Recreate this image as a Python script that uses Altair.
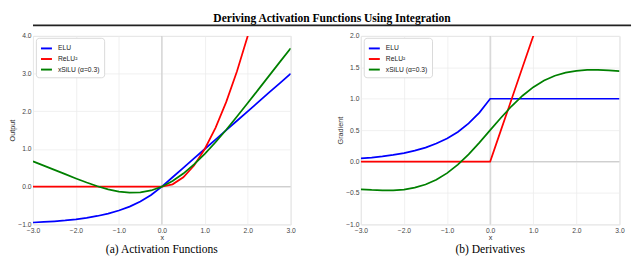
import altair as alt
import pandas as pd

# ---- data ----
x_vals = [-3.0, -2.75, -2.5, -2.25, -2.0, -1.75, -1.5, -1.25, -1.0, -0.75, -0.5, -0.25,
          0.0, 0.25, 0.5, 0.75, 1.0, 1.25, 1.5, 1.75, 2.0, 2.25, 2.5, 2.75, 3.0]

elu_f = [-0.950, -0.936, -0.918, -0.895, -0.865, -0.826, -0.777, -0.713, -0.632, -0.528, -0.393, -0.221,
         0.0, 0.25, 0.5, 0.75, 1.0, 1.25, 1.5, 1.75, 2.0, 2.25, 2.5, 2.75, 3.0]
relu2_f = [0.0, 0.0, 0.0, 0.0, 0.0, 0.0, 0.0, 0.0, 0.0, 0.0, 0.0, 0.0,
           0.0, 0.0625, 0.25, 0.5625, 1.0, 1.5625, 2.25, 3.0625, 4.0, 5.0625, 6.25, 7.5625, 9.0]
xsilu_f = [0.672, 0.560, 0.446, 0.332, 0.219, 0.111, 0.012, -0.070, -0.130, -0.160, -0.152, -0.100,
           0.0, 0.150, 0.348, 0.590, 0.870, 1.180, 1.512, 1.861, 2.219, 2.582, 2.946, 3.311, 3.673]

elu_d = [0.050, 0.064, 0.082, 0.105, 0.135, 0.174, 0.223, 0.287, 0.368, 0.472, 0.607, 0.779,
         1.0, 1.0, 1.0, 1.0, 1.0, 1.0, 1.0, 1.0, 1.0, 1.0, 1.0, 1.0, 1.0]
relu2_d = [0.0, 0.0, 0.0, 0.0, 0.0, 0.0, 0.0, 0.0, 0.0, 0.0, 0.0, 0.0,
           0.0, 0.5, 1.0, 1.5, 2.0, 2.5, 3.0, 3.5, 4.0, 4.5, 5.0, 5.5, 6.0]
xsilu_d = [-0.441, -0.452, -0.459, -0.458, -0.445, -0.416, -0.366, -0.290, -0.184, -0.048, 0.116, 0.302,
           0.5, 0.698, 0.884, 1.048, 1.184, 1.290, 1.366, 1.416, 1.445, 1.458, 1.459, 1.452, 1.441]

series_names = ["ELU", "ReLU²", "xSiLU (α=0.3)"]
series_colors = ["#0000ff", "#ff0000", "#008000"]

main_title = "Deriving Activation Functions Using Integration"
sub_a = "(a) Activation Functions"
sub_b = "(b) Derivatives"
x_ticks = [-3, -2, -1, 0, 1, 2, 3]
y_ticks_a = [-1, 0, 1, 2, 3, 4]
y_ticks_b = [-1.0, -0.5, 0.0, 0.5, 1.0, 1.5, 2.0]


def long_df(cols):
    rows = []
    for name, vals in zip(series_names, cols):
        for i, (xv, yv) in enumerate(zip(x_vals, vals)):
            rows.append({"x": xv, "y": yv, "series": name, "order": i})
    return pd.DataFrame(rows)


df_a = long_df([elu_f, relu2_f, xsilu_f])
df_b = long_df([elu_d, relu2_d, xsilu_d])

SANS = "Liberation Sans"
SERIF = "Liberation Serif"


def panel(df, ytitle, ydom, yticks, sub, w, h):
    xs = alt.Scale(domain=[-3, 3], nice=False)
    ys = alt.Scale(domain=ydom, nice=False)
    xax = alt.Axis(values=x_ticks, format=".1f", title="x", labelFlush=False,
                   titleFontWeight="normal")
    yax = alt.Axis(values=yticks, format=".1f", title=ytitle, labelFlush=False,
                   titleFontWeight="normal")
    zero = pd.DataFrame({"v": [0]})
    vline = alt.Chart(zero).mark_rule(color="#cfcfcf", strokeWidth=1.2).encode(
        x=alt.X("v:Q", scale=xs, axis=xax))
    hline = alt.Chart(zero).mark_rule(color="#cfcfcf", strokeWidth=1.2).encode(
        y=alt.Y("v:Q", scale=ys, axis=yax))
    lines = alt.Chart(df).mark_line(strokeWidth=1.8, clip=True).encode(
        x=alt.X("x:Q", scale=xs, axis=xax),
        y=alt.Y("y:Q", scale=ys, axis=yax),
        order="order:Q",
        color=alt.Color("series:N",
                        scale=alt.Scale(domain=series_names, range=series_colors),
                        sort=series_names,
                        legend=alt.Legend(title=None, orient="none", legendX=3, legendY=2,
                                          symbolType="stroke", symbolStrokeWidth=2,
                                          symbolSize=130, labelFontSize=7, labelFont=SANS,
                                          labelColor="#222", fillColor="white",
                                          strokeColor="#d8d8d8", cornerRadius=3,
                                          padding=4, rowPadding=-1, labelOffset=5)),
    )
    return alt.layer(vline, hline, lines).properties(
        width=w, height=h,
        title=alt.TitleParams(sub, orient="bottom", font=SERIF, fontSize=12,
                              fontWeight="normal", color="#000", offset=3),
    )


left = panel(df_a, "Output", [-1, 4], y_ticks_a, sub_a, 268, 196)
right = panel(df_b, "Gradient", [-1, 2], y_ticks_b, sub_b, 269, 196)

row = alt.hconcat(left, right, spacing=41).resolve_scale(color="independent").resolve_legend(color="independent")

hdr_df = pd.DataFrame({"t": [main_title]})
TOTAL_W = 622
hdr_text = alt.Chart(hdr_df).mark_text(font=SERIF, fontSize=12, fontWeight="bold",
                                       color="#000", baseline="top", align="center").encode(
    text="t:N", x=alt.value(TOTAL_W / 2), y=alt.value(0))
hdr_rule = alt.Chart(hdr_df).mark_rule(color="#222", strokeWidth=2).encode(
    x=alt.value(0), x2=alt.value(TOTAL_W), y=alt.value(12))
header = alt.layer(hdr_text, hdr_rule).properties(
    width=TOTAL_W, height=13, view=alt.ViewBackground(stroke=None, strokeWidth=0))

chart = alt.vconcat(header, row, spacing=5).properties(padding=0).configure_view(
    stroke="#dddddd", strokeWidth=1
).configure_axis(
    gridColor="#ececec", gridWidth=0.8, domain=False, ticks=False,
    labelFont=SANS, labelFontSize=7, labelColor="#444", labelPadding=2,
    titleFont=SANS, titleFontSize=7.5, titleFontWeight="normal", titleColor="#333", titlePadding=1,
)

chart.save("out.html", embed_options={"renderer": "svg", "actions": False})
